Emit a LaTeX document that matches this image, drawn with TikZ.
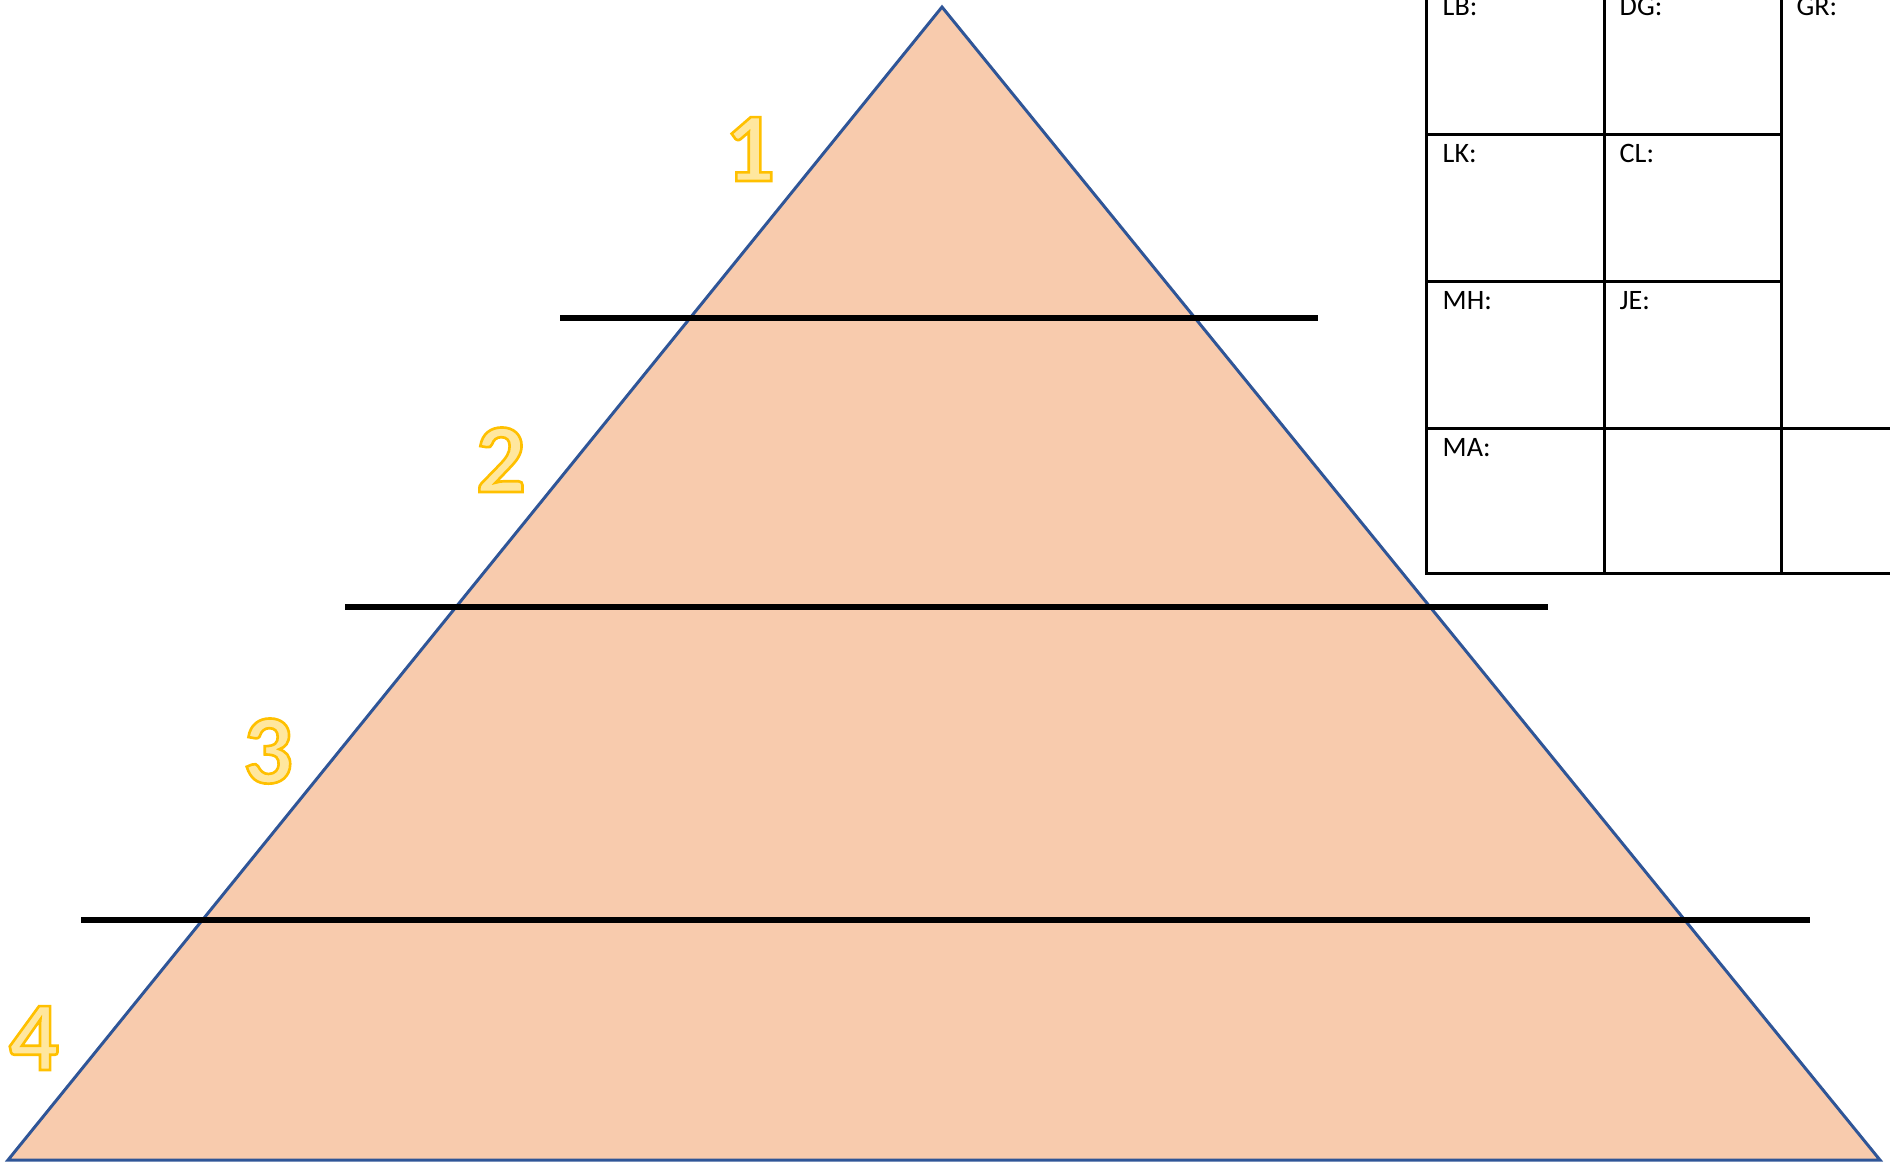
\documentclass[tikz,border=0pt]{standalone}
\usepackage{fontspec}
\setmainfont{Carlito}
\usepackage{tikz}
\usetikzlibrary{positioning}
\definecolor{pyrfill}{RGB}{248,203,173}
\definecolor{pyrblue}{RGB}{47,85,151}
\definecolor{numfill}{RGB}{255,231,158}
\definecolor{mydark}{RGB}{0,0,0}
% outlined digits: fill with text colour, stroke in gold
\newcommand{\outlinenum}[1]{\special{pdf:literal direct 1 0.753 0 RG 0.75 w 2 Tr}#1\special{pdf:literal direct 0 Tr}}
\tikzset{
  pyramid/.style={draw=pyrblue, fill=pyrfill, line width=0.85pt, line join=miter},
  divider/.style={draw=mydark, line width=1.45pt},
  grid/.style={draw=mydark, line width=0.85pt},
  levelnum/.style={anchor=base, inner sep=0pt, text=numfill,
    font=\fontsize{28}{30}\selectfont\bfseries},
  cellname/.style={anchor=base west, inner sep=0pt,
    font=\fontsize{8}{10}\selectfont}
}
\begin{document}
\begin{tikzpicture}[x=0.01cm, y=-0.01cm]
  \useasboundingbox (0,0) rectangle (1890,1162);
  \clip (0,0) rectangle (1890,1162);

  % pyramid
  \coordinate (apex) at (942,7);
  \coordinate (bl) at (8,1160);
  \coordinate (br) at (1880,1160);
  \path[pyramid] (apex) -- (br) -- (bl) -- cycle;

  % level dividers
  \draw[divider] (560,318) -- (1318,318);
  \draw[divider] (345,607) -- (1548,607);
  \draw[divider] (81,920) -- (1810,920);

  % level numbers
  \node[levelnum] (n1) at (750,181) {\outlinenum{1}};
  \node[levelnum] (n2) at (501,492) {\outlinenum{2}};
  \node[levelnum] (n3) at (268,783) {\outlinenum{3}};
  \node[levelnum] (n4) at (34,1070) {\outlinenum{4}};

  % table
  \draw[grid] (1426,-20) -- (1426,573) -- (1900,573);
  \draw[grid] (1604,-20) -- (1604,573);
  \draw[grid] (1781,-20) -- (1781,573);
  \draw[grid] (1426,134) -- (1781,134);
  \draw[grid] (1426,281) -- (1781,281);
  \draw[grid] (1426,428) -- (1900,428);

  \node[cellname] (lb) at (1442,15) {LB:};
  \node[cellname] (dg) at (1619,15) {DG:};
  \node[cellname] (gr) at (1796,15) {GR:};
  \node[cellname] (lk) at (1442,162) {LK:};
  \node[cellname] (cl) at (1619,162) {CL:};
  \node[cellname] (mh) at (1442,309) {MH:};
  \node[cellname] (je) at (1619,309) {JE:};
  \node[cellname] (ma) at (1442,456) {MA:};
\end{tikzpicture}
\end{document}
